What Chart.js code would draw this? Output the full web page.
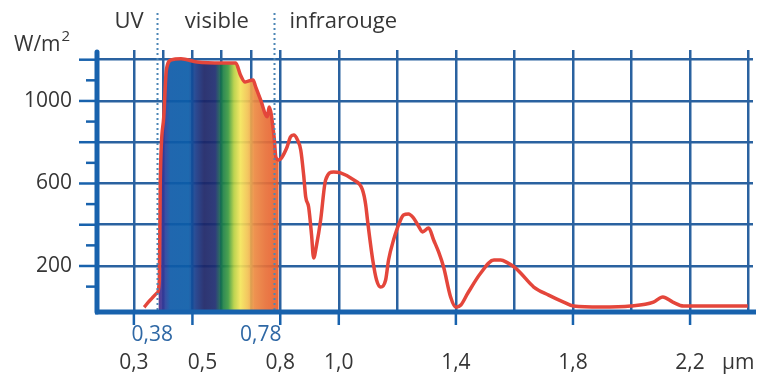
<!DOCTYPE html>
<html><head><meta charset="utf-8">
<script src="https://cdn.jsdelivr.net/npm/chart.js@4/dist/chart.umd.min.js"></script>
<style>html,body{margin:0;padding:0;background:#fff;}#wrap{width:760px;height:378px;}</style>
</head><body><div id="wrap"><canvas id="c" width="760" height="378"></canvas></div>
<script>
// ---- data (wavelength in µm, irradiance in W/m²) ----
const wavelengths = [0.335,0.356,0.379,0.387,0.390,0.402,0.411,0.428,0.461,0.516,0.602,0.648,0.664,0.680,0.707,0.716,0.733,0.756,0.762,0.779,0.785,0.795,
  0.822,0.835,0.846,0.859,0.870,0.880,0.887,0.897,0.907,0.914,0.924,0.938,0.955,0.982,1.006,1.051,1.081,1.092,1.098,1.116,1.129,1.143,1.160,1.170,1.187,
  1.211,1.221,1.238,1.255,1.272,1.286,1.307,1.324,1.341,1.358,1.382,1.400,1.417,1.441,1.485,1.530,1.553,1.577,1.604,1.621,1.666,1.717,1.768,1.802,1.894,
  1.997,2.075,2.107,2.141,2.178,2.397];
const irradiance = [0,35,69,132,602,922,1150,1199,1204,1189,1184,1184,1126,1092,1102,1068,1005,923,971,825,728,714,
  772,826,835,811,762,641,534,486,350,239,301,423,617,656,651,617,569,496,423,229,132,98,132,229,326,
  423,447,452,433,394,365,384,326,268,195,50,0,11,69,166,229,229,215,190,166,98,59,25,6,1,
  6,25,50,25,6,6];
const visibleEnd = 0.795;             // fill of the visible band ends here
const gridWavelengths = [0.3,0.4,0.5,0.6,0.7,0.8,1.0,1.2,1.4,1.6,1.8,2.0,2.2,2.4];
const xLabelValues = [0.3,0.5,0.8,1.0,1.4,1.8,2.2];
const xLabelTexts  = ['0,3','0,5','0,8','1,0','1,4','1,8','2,2'];
const bandLimits = [0.38,0.78];
const bandLimitTexts = ['0,38','0,78'];
const bandNames = ['UV','visible','infrarouge'];
const yGridValues = [200,400,600,800,1000,1200];
const yMinorValues = [100,300,500,700,900,1100];
const yLabelValues = [200,600,1000];
const yLabelTexts = ['200','600','1000'];
const xUnit = 'µm';
const yUnit = 'W/m';

const GRID = '#2a62a0', AXIS = '#1862ad', RED = '#e4463b', TXT = '#363636', BLUE_TXT = '#2f68a5';
const FONT = '"Open Sans", "Noto Sans", sans-serif';

const points = wavelengths.map((w,i)=>({x:w,y:irradiance[i]}));
const visiblePoints = points.filter(p=>p.x<=visibleEnd);

function spectrumFill(ctx){
  const chart = ctx.chart; if(!chart.chartArea) return 'rgba(0,0,0,0)';
  const xs = chart.scales.x;
  const a = xs.getPixelForValue(0.3), b = xs.getPixelForValue(0.8);
  const g = chart.ctx.createLinearGradient(a,0,b,0);
  const f = w => Math.min(1,Math.max(0,(w-0.3)/0.5));
  const stops = [[0.383,'rgba(255,255,255,0.9)'],[0.386,'rgba(74,44,140,0.92)'],[0.405,'rgba(44,60,154,0.92)'],[0.424,'rgba(13,90,168,0.92)'],[0.487,'rgba(11,92,168,0.92)'],
    [0.512,'rgba(26,58,136,0.92)'],[0.540,'rgba(28,36,102,0.92)'],[0.578,'rgba(30,44,112,0.92)'],[0.600,'rgba(23,120,72,0.92)'],[0.622,'rgba(59,154,64,0.92)'],[0.642,'rgba(182,208,66,0.92)'],
    [0.664,'rgba(244,229,90,0.92)'],[0.690,'rgba(242,192,82,0.92)'],[0.712,'rgba(236,138,66,0.92)'],[0.750,'rgba(232,112,56,0.92)'],[0.800,'rgba(232,90,44,0.92)']];
  stops.forEach(s=>g.addColorStop(f(s[0]),s[1]));
  return g;
}

const decor = {
  id:'decor',
  afterDraw(chart){
    const c = chart.ctx, xs = chart.scales.x, ys = chart.scales.y, ca = chart.chartArea;
    c.save();
    // dotted band limits
    c.strokeStyle = '#4d86b5'; c.lineWidth = 2; c.setLineDash([2,3]);
    bandLimits.forEach(w=>{const x = Math.round(xs.getPixelForValue(w))+0.5;
      c.beginPath(); c.moveTo(x,13); c.lineTo(x,ca.bottom); c.stroke();});
    c.setLineDash([]);
    // axes
    c.strokeStyle = AXIS; c.lineCap='round';
    c.lineWidth = 5;
    c.beginPath(); c.moveTo(ca.left, ca.top+2); c.lineTo(ca.left, ca.bottom); c.stroke();
    c.lineCap='butt';
    c.beginPath(); c.moveTo(ca.left-2, ca.bottom); c.lineTo(ca.right+3, ca.bottom); c.stroke();
    // ticks
    c.lineWidth = 2.5;
    yGridValues.forEach(v=>{const y=ys.getPixelForValue(v); c.beginPath(); c.moveTo(ca.left-18,y); c.lineTo(ca.left,y); c.stroke();});
    yMinorValues.forEach(v=>{const y=ys.getPixelForValue(v); c.beginPath(); c.moveTo(ca.left-11,y); c.lineTo(ca.left,y); c.stroke();});
    xLabelValues.forEach(v=>{const x=xs.getPixelForValue(v); c.beginPath(); c.moveTo(x,ca.bottom); c.lineTo(x,ca.bottom+13); c.stroke();});
    // texts
    c.fillStyle = TXT; c.textBaseline='middle';
    c.font = '21px '+FONT; c.textAlign='right';
    yLabelValues.forEach((v,i)=>c.fillText(yLabelTexts[i], ca.left-25, ys.getPixelForValue(v)));
    c.textAlign='center';
    xLabelValues.forEach((v,i)=>{const dx = v===0.5?10:0; c.fillText(xLabelTexts[i], xs.getPixelForValue(v)+dx, 363);});
    c.textAlign='left'; c.fillText(xUnit, xs.getPixelForValue(2.2)+32, 363);
    c.fillStyle = BLUE_TXT; c.textAlign='center';
    c.fillText(bandLimitTexts[0], xs.getPixelForValue(bandLimits[0])-5, 335);
    c.textAlign='right';
    c.fillText(bandLimitTexts[1], xs.getPixelForValue(bandLimits[1])+7, 335);
    // band names
    c.font = '22px '+FONT;
    c.fillStyle = TXT; c.textAlign='center';
    const l0 = xs.getPixelForValue(bandLimits[0]), l1 = xs.getPixelForValue(bandLimits[1]);
    c.fillText(bandNames[0], (ca.left+l0)/2+2, 22);
    c.fillText(bandNames[1], (l0+l1)/2+1, 22);
    c.textAlign='left'; c.fillText(bandNames[2], l1+15, 22);
    // y unit
    c.textAlign='left'; c.font='21px '+FONT;
    c.fillText(yUnit, 14, 45);
    const w = c.measureText(yUnit).width;
    c.font='15px '+FONT; c.fillText('2', 14+w+1, 37);
    c.restore();
  }
};

new Chart(document.getElementById('c'),{
  type:'line',
  data:{datasets:[
    {data:points, borderColor:RED, borderWidth:3.5, pointRadius:0, fill:false, cubicInterpolationMode:'monotone', order:0},
    {data:visiblePoints, borderWidth:0, borderColor:'rgba(0,0,0,0)', pointRadius:0, fill:'start', backgroundColor:spectrumFill, cubicInterpolationMode:'monotone', order:1}
  ]},
  options:{
    responsive:false, animation:false, devicePixelRatio:1,
    layout:{padding:{left:97, top:50, right:7, bottom:66}},
    plugins:{legend:{display:false}, tooltip:{enabled:false}},
    scales:{
      x:{type:'linear', min:0.174, max:2.415,
        afterBuildTicks:s=>{s.ticks = gridWavelengths.map(v=>({value:v}));},
        ticks:{display:false}, grid:{color:GRID, lineWidth:2.5, drawTicks:false}, border:{display:false}},
      y:{type:'linear', min:-23, max:1247,
        afterBuildTicks:s=>{s.ticks = yGridValues.map(v=>({value:v}));},
        ticks:{display:false}, grid:{color:GRID, lineWidth:2.5, drawTicks:false}, border:{display:false}}
    }
  },
  plugins:[decor]
});
</script></body></html>
